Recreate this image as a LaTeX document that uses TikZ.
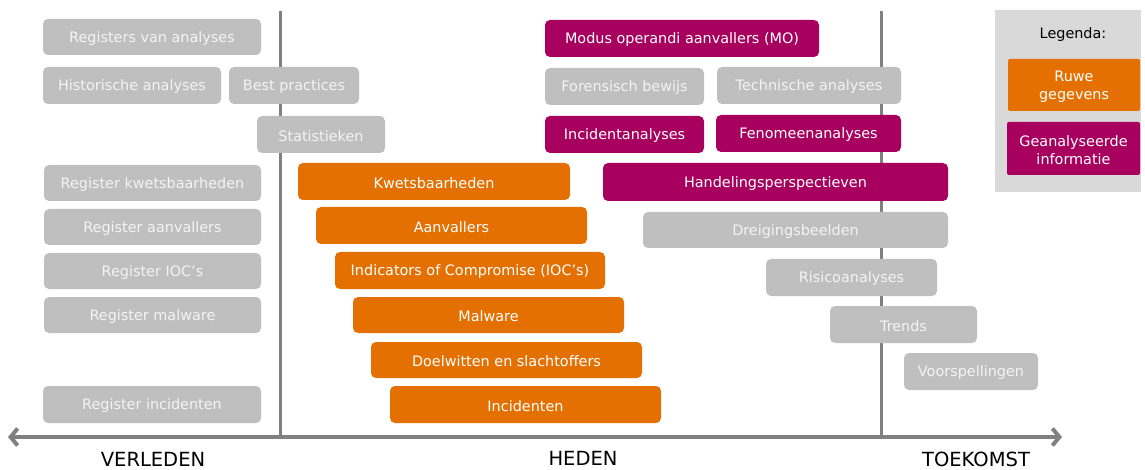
\documentclass[tikz,border=0pt]{standalone}
\usepackage{fontspec}
\setmainfont{DejaVu Sans}
\usetikzlibrary{arrows.meta}
\definecolor{raw}{HTML}{E37000}
\definecolor{ana}{HTML}{A8005E}
\definecolor{gbox}{HTML}{BFBFBF}
\definecolor{gline}{HTML}{808080}
\definecolor{legbg}{HTML}{D9D9D9}
\definecolor{txtw}{HTML}{F4F4F4}
\tikzset{
  bx/.style={rounded corners=5pt, font=\fontsize{14.4}{16}\selectfont, inner sep=0pt, nodes={yshift=-1.5pt}},
  gb/.style={bx, fill=gbox, text=txtw},
  ob/.style={bx, fill=raw, text=white},
  mb/.style={bx, fill=ana, text=white},
  axislbl/.style={font=\fontsize{19.5}{21}\selectfont, text=black},
}
\begin{document}
\begin{tikzpicture}[x=1pt,y=-1pt]
\useasboundingbox (0,0) rectangle (1145,470);
% axes
\draw[gline, line width=3pt] (280,11) -- (280,437);
\draw[gline, line width=3pt] (881,11) -- (881,437);
\coordinate (L) at (8,437);
\coordinate (R) at (1062,437);
\draw[gline, line width=4pt, {Straight Barb[length=7pt,width=17pt,line width=4pt]}-{Straight Barb[length=7pt,width=17pt,line width=4pt]}] (L) -- (R);
\node[axislbl] (verl) at (153,459) {VERLEDEN};
\node[axislbl] (hed) at (583,458) {HEDEN};
\node[axislbl] (toek) at (976,459) {TOEKOMST};
% gray left
\path[gb] (43,19) rectangle (261,55) node[midway] (n1) {Registers van analyses};
\path[gb] (43,67) rectangle (221,104) node[midway] (n2) {Historische analyses};
\path[gb] (229,67) rectangle (359,104) node[midway] (n3) {Best practices};
\path[gb] (257,116) rectangle (385,153) node[midway] (n4) {Statistieken};
\path[gb] (44,165) rectangle (261,201) node[midway] (n5) {Register kwetsbaarheden};
\path[gb] (44,209) rectangle (261,245) node[midway] (n6) {Register aanvallers};
\path[gb] (44,253) rectangle (261,289) node[midway] (n7) {Register IOC’s};
\path[gb] (44,297) rectangle (261,333) node[midway] (n8) {Register malware};
\path[gb] (43,386) rectangle (261,423) node[midway] (n9) {Register incidenten};
% orange
\path[ob] (298,163) rectangle (570,200) node[midway] (o1) {Kwetsbaarheden};
\path[ob] (316,207) rectangle (587,244) node[midway] (o2) {Aanvallers};
\path[ob] (335,252) rectangle (605,289) node[midway] (o3) {Indicators of Compromise (IOC’s)};
\path[ob] (353,297) rectangle (624,333) node[midway] (o4) {Malware};
\path[ob] (371,342) rectangle (642,378) node[midway] (o5) {Doelwitten en slachtoffers};
\path[ob] (390,386) rectangle (661,423) node[midway] (o6) {Incidenten};
% right side
\path[mb] (545,20) rectangle (819,57) node[midway] (m1) {Modus operandi aanvallers (MO)};
\path[gb] (545,68) rectangle (704,105) node[midway] (g1) {Forensisch bewijs};
\path[gb] (717,67) rectangle (901,104) node[midway] (g2) {Technische analyses};
\path[mb] (545,116) rectangle (704,153) node[midway] (m2) {Incidentanalyses};
\path[mb] (716,115) rectangle (901,152) node[midway] (m3) {Fenomeenanalyses};
\path[mb] (603,163) rectangle (948,201) node[midway] (m4) {Handelingsperspectieven};
\path[gb] (643,212) rectangle (948,248) node[midway] (g3) {Dreigingsbeelden};
\path[gb] (766,259) rectangle (937,296) node[midway] (g4) {Risicoanalyses};
\path[gb] (830,306) rectangle (977,343) node[midway] (g5) {Trends};
\path[gb] (904,353) rectangle (1038,390) node[midway] (g6) {Voorspellingen};
% legend
\fill[legbg] (995,10) rectangle (1141,192);
\node[font=\fontsize{14.4}{16}\selectfont, text=black] (leg) at (1073,35) {Legenda:};
\path[ob, rounded corners=2pt] (1008,59) rectangle (1140,111) node[midway, align=center, font=\fontsize{14.4}{18}\selectfont] (lr) {Ruwe\\gegevens};
\path[mb, rounded corners=2pt] (1007,122) rectangle (1140,175) node[midway, align=center, font=\fontsize{14.4}{18}\selectfont] (la) {Geanalyseerde\\informatie};
\end{tikzpicture}
\end{document}
